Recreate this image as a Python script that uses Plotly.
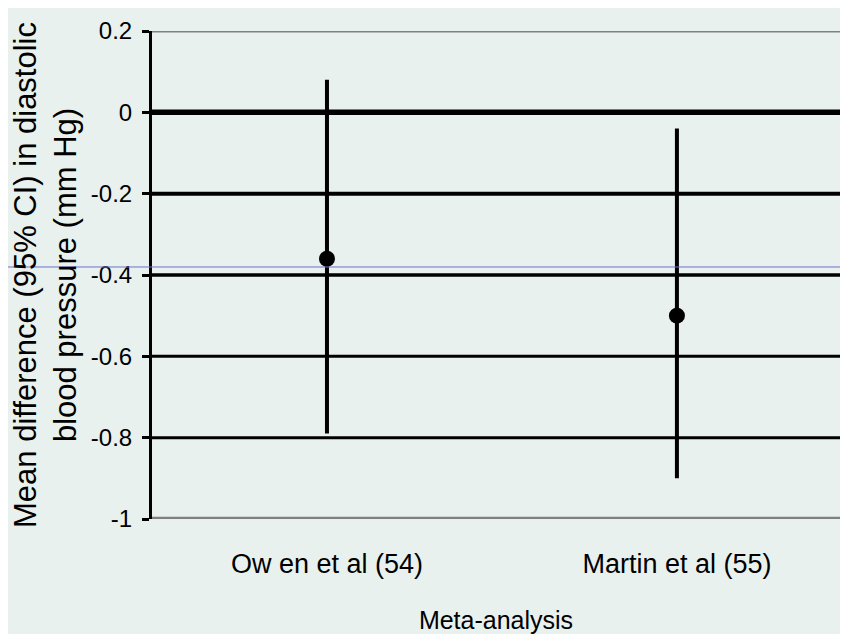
import plotly.graph_objects as go

categories = ["Ow en et al (54)", "Martin et al (55)"]
means = [-0.36, -0.50]
ci_upper = [0.08, -0.04]
ci_lower = [-0.79, -0.90]
tick_vals = [0.2, 0, -0.2, -0.4, -0.6, -0.8, -1]
tick_text = ["0.2", "0", "-0.2", "-0.4", "-0.6", "-0.8", "-1"]

err_plus = [u - m for u, m in zip(ci_upper, means)]
err_minus = [m - l for m, l in zip(means, ci_lower)]

BG = "#e9f1ee"
FONT = "Liberation Sans, Arial, sans-serif"

fig = go.Figure()
fig.add_trace(go.Scatter(
    x=categories, y=means, mode="markers",
    marker=dict(symbol="circle", size=16, color="black"),
    error_y=dict(type="data", symmetric=False, array=err_plus, arrayminus=err_minus,
                 color="black", thickness=4, width=0),
    showlegend=False, cliponaxis=False,
))

grid_styles = {0.2: ("#808080", 3), 0: ("black", 5.5), -0.2: ("black", 4),
               -0.4: ("black", 3.5), -0.6: ("black", 3), -0.8: ("black", 3), -1: ("#808080", 4.5)}
shapes = []
for v in tick_vals:
    c, w = grid_styles[v]
    shapes.append(dict(type="line", xref="paper", yref="y", x0=0, x1=1.0, y0=v, y1=v,
                       line=dict(color=c, width=w), layer="below"))
# scan artifact line
shapes.append(dict(type="line", xref="paper", yref="paper", x0=-0.21, x1=1.0, y0=0.5164, y1=0.5164,
                   line=dict(color="#6f6fd0", width=1), layer="above"))

fig.update_layout(
    width=832, height=626,
    margin=dict(l=144, r=0, t=23, b=115),
    paper_bgcolor=BG, plot_bgcolor=BG,
    shapes=shapes,
    xaxis=dict(type="category", range=[-0.5, 1.466], showgrid=False, showline=False,
               zeroline=False, ticks="", ticklabelstandoff=26, automargin=False,
               tickfont=dict(family=FONT, size=27, color="black"),
               title=dict(text="Meta-analysis", font=dict(family=FONT, size=25, color="black"),
                          standoff=33)),
    yaxis=dict(range=[-1, 0.2], tickvals=tick_vals, ticktext=tick_text,
               showgrid=False, zeroline=False, automargin=False,
               showline=True, linecolor="black", linewidth=3,
               ticks="outside", ticklen=7, tickwidth=3, tickcolor="black",
               ticklabelstandoff=5,
               tickfont=dict(family=FONT, size=24, color="black"),
               title=dict(text="Mean difference (95% CI) in diastolic<br>blood pressure (mm Hg)",
                          font=dict(family=FONT, size=31, color="black"),
                          standoff=6)),
)

fig.write_html("out.html")
